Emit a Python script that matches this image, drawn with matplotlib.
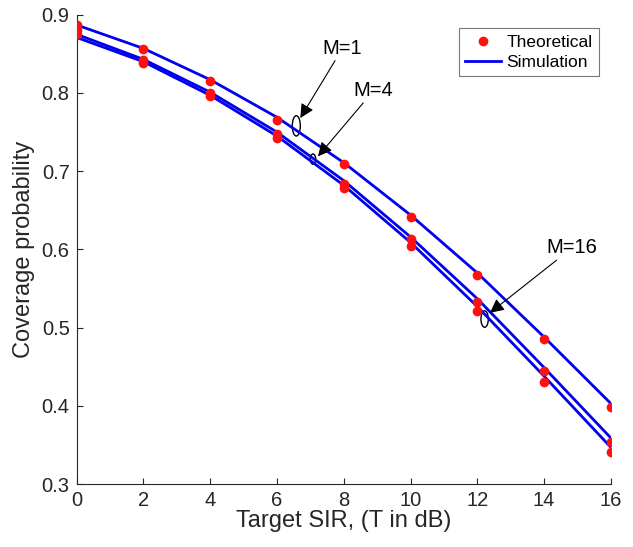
import matplotlib
matplotlib.use("Agg")
import matplotlib.pyplot as plt
from matplotlib.patches import Ellipse

plt.rcParams['font.family'] = ['Liberation Sans', 'DejaVu Sans']

# Data
sir_db = [0, 2, 4, 6, 8, 10, 12, 14, 16]
theory_m1 = [0.887, 0.856, 0.815, 0.766, 0.709, 0.642, 0.567, 0.485, 0.398]
theory_m4 = [0.881, 0.842, 0.800, 0.748, 0.684, 0.613, 0.533, 0.444, 0.354]
theory_m16 = [0.875, 0.838, 0.796, 0.742, 0.678, 0.604, 0.521, 0.431, 0.341]
sim_m1 = [0.887, 0.857, 0.817, 0.769, 0.711, 0.644, 0.570, 0.488, 0.403]
sim_m4 = [0.875, 0.843, 0.801, 0.750, 0.688, 0.616, 0.537, 0.449, 0.359]
sim_m16 = [0.871, 0.840, 0.797, 0.745, 0.682, 0.609, 0.527, 0.438, 0.347]
xticks = [0, 2, 4, 6, 8, 10, 12, 14, 16]
yticks = [0.3, 0.4, 0.5, 0.6, 0.7, 0.8, 0.9]

fig = plt.figure(figsize=(6.33, 5.47), dpi=100)
ax = fig.add_axes([0.121, 0.115, 0.844, 0.858])

for s in (sim_m1, sim_m4, sim_m16):
    ax.plot(sir_db, s, color='#0000ee', lw=2.0, zorder=2)
for t in (theory_m1, theory_m4, theory_m16):
    ax.plot(sir_db, t, linestyle='none', marker='o', ms=7, color='#ff1010',
            markeredgewidth=0, zorder=3)

# legend proxies
h1, = ax.plot([], [], linestyle='none', marker='o', ms=7, color='#ff1010', markeredgewidth=0)
h2, = ax.plot([], [], color='#0000ee', lw=2.0)
leg = ax.legend([h1, h2], ['Theoretical', 'Simulation'], loc='upper right',
                bbox_to_anchor=(0.9775, 0.971), fontsize=12.5, frameon=True,
                fancybox=False, edgecolor='#555555', handlelength=2.1,
                borderpad=0.35, labelspacing=0.3, handletextpad=0.3, borderaxespad=0)
leg.get_frame().set_linewidth(0.8)

arrow = dict(arrowstyle='-|>,head_length=0.6,head_width=0.3', color='black', lw=0.8,
             mutation_scale=14, shrinkA=0, shrinkB=0)

# annotations
ax.add_patch(Ellipse((6.58, 0.758), 0.24, 0.026, fill=False, color='black', lw=1.0))
ax.annotate('M=1', xy=(6.7, 0.768), xytext=(7.37, 0.857), fontsize=14.5,
            ha='left', va='center', arrowprops=arrow)
ax.add_patch(Ellipse((7.08, 0.7155), 0.16, 0.013, fill=False, color='black', lw=1.0))
ax.annotate('M=4', xy=(7.23, 0.719), xytext=(8.3, 0.803), fontsize=14.5,
            ha='left', va='center', arrowprops=arrow)
ax.add_patch(Ellipse((12.22, 0.511), 0.22, 0.021, fill=False, color='black', lw=1.0))
ax.annotate('M=16', xy=(12.38, 0.519), xytext=(14.08, 0.602), fontsize=14.5,
            ha='left', va='center', arrowprops=arrow)

ax.set_xlim(0, 16)
ax.set_ylim(0.3, 0.9)
ax.set_xticks(xticks)
ax.set_yticks(yticks)
ax.set_xticklabels([str(v) for v in xticks])
ax.set_yticklabels([f'{v:.1f}' for v in yticks])
ax.tick_params(direction='in', length=4, width=0.8, labelsize=14.5, colors='#262626')
ax.tick_params(axis='y', pad=5)
ax.tick_params(axis='x', pad=5)
for side in ('top', 'right'):
    ax.spines[side].set_visible(False)
for side in ('left', 'bottom'):
    ax.spines[side].set_color('#262626')
    ax.spines[side].set_linewidth(0.8)

ax.set_xlabel('Target SIR, (T in dB)', fontsize=17, color='#262626', labelpad=0)
ax.set_ylabel('Coverage probability', fontsize=17, color='#262626', labelpad=5)

fig.savefig('out.png', dpi=100)
